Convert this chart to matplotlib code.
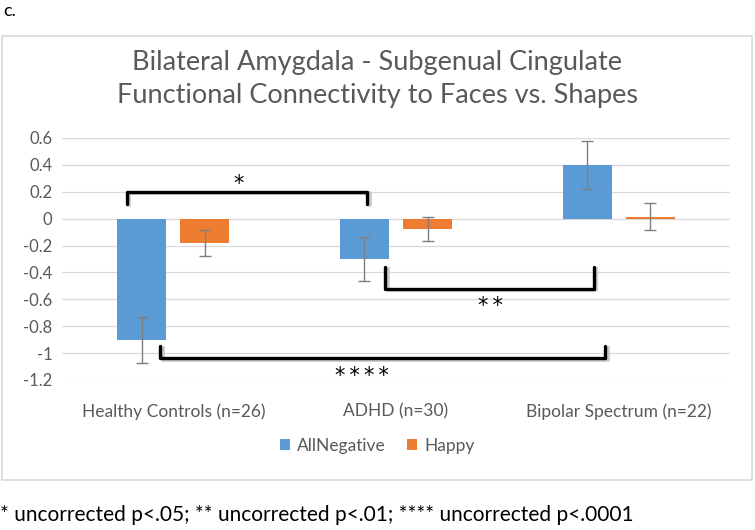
import matplotlib.pyplot as plt
from matplotlib.patches import Rectangle
import numpy as np

groups = ["Healthy Controls (n=26)", "ADHD (n=30)", "Bipolar Spectrum (n=22)"]
all_negative = [-0.90, -0.30, 0.40]
all_negative_err = [0.17, 0.16, 0.18]
happy = [-0.18, -0.075, 0.015]
happy_err = [0.095, 0.09, 0.10]
y_ticks = [0.6, 0.4, 0.2, 0, -0.2, -0.4, -0.6, -0.8, -1.0, -1.2]
y_tick_labels = ["0.6", "0.4", "0.2", "0", "-0.2", "-0.4", "-0.6", "-0.8", "-1", "-1.2"]

BLUE = "#5B9BD5"
ORANGE = "#ED7D31"
GREY_TEXT = "#595959"

plt.rcParams["font.family"] = ["Lato", "DejaVu Sans"]

fig = plt.figure(figsize=(7.55, 5.3), dpi=100)

# outer chart frame
fig.patches.append(Rectangle((2 / 755, 1 - 480 / 530), 750 / 755, 444 / 530,
                             transform=fig.transFigure, fill=False,
                             edgecolor="#d9d9d9", linewidth=1.2))

ax = fig.add_axes([62 / 755, 1 - 380 / 530, 668 / 755, 242 / 530])

x = np.arange(len(groups))
offset = 0.283
width = 0.22
err_kw = dict(ecolor="#7f7f7f", elinewidth=1, capsize=4, capthick=1)
ax.bar(x - offset / 2, all_negative, width, yerr=all_negative_err, color=BLUE,
       label="AllNegative", error_kw=err_kw, zorder=2)
ax.bar(x + offset / 2, happy, width, yerr=happy_err, color=ORANGE,
       label="Happy", error_kw=err_kw, zorder=2)

ax.set_xlim(-0.5, 2.5)
ax.set_ylim(-1.2, 0.6)
ax.set_yticks(y_ticks)
ax.set_yticklabels(y_tick_labels, color=GREY_TEXT, fontsize=12)
ax.set_xticks(x)
ax.set_xticklabels(groups, color=GREY_TEXT, fontsize=12.5)
ax.tick_params(axis="both", length=0)
ax.tick_params(axis="x", pad=17)
ax.tick_params(axis="y", pad=7)
ax.grid(axis="y", color="#d9d9d9", linewidth=0.9, zorder=0)
ax.set_axisbelow(True)
for s in ax.spines.values():
    s.set_visible(False)


def bracket(x0, x1, y, tip, label, tx, ty):
    xs = [x0, x0, x1, x1]
    ys = [tip, y, y, tip]
    # soft shadow then the bracket itself
    ax.plot(np.array(xs) + 0.01, np.array(ys) - 0.012, color="#c8c8c8",
            lw=2.6, solid_joinstyle="round", zorder=3, clip_on=False)
    ax.plot(xs, ys, color="black", lw=2.4, solid_joinstyle="round",
            solid_capstyle="round", zorder=4, clip_on=False)
    ax.text(tx, ty, label, ha="center", va="center", fontsize=15,
            family="DejaVu Sans", zorder=5)


bracket(-0.207, 0.871, 0.2, 0.11, "*", 0.292, 0.26)
bracket(0.952, 1.890, -0.52, -0.36, "*\u2009*", 1.423, -0.65)
bracket(-0.058, 1.94, -1.04, -0.95, "*\u2009*\u2009*\u2009*", 0.848, -1.17)

handles, labels = ax.get_legend_handles_labels()
fig.legend(handles, labels, loc="center", bbox_to_anchor=(377 / 755, 1 - 446 / 530),
           ncol=2, frameon=False, fontsize=12.5, handlelength=0.6, handleheight=0.6,
           columnspacing=1.2, handletextpad=0.4, labelcolor=GREY_TEXT)

fig.text(0.5, 1 - 79 / 530, "Bilateral Amygdala - Subgenual Cingulate\n"
         "Functional Connectivity to Faces vs. Shapes",
         ha="center", va="center", fontsize=19.5, color=GREY_TEXT, linespacing=1.4)

fig.text(3 / 755, 1 - 11 / 530, "c.", ha="left", va="center", fontsize=13)
fig.text(0 / 755, 1 - 515 / 530,
         "* uncorrected p<.05; ** uncorrected p<.01; **** uncorrected p<.0001",
         ha="left", va="center", fontsize=15)

fig.savefig("out.png", dpi=100)
